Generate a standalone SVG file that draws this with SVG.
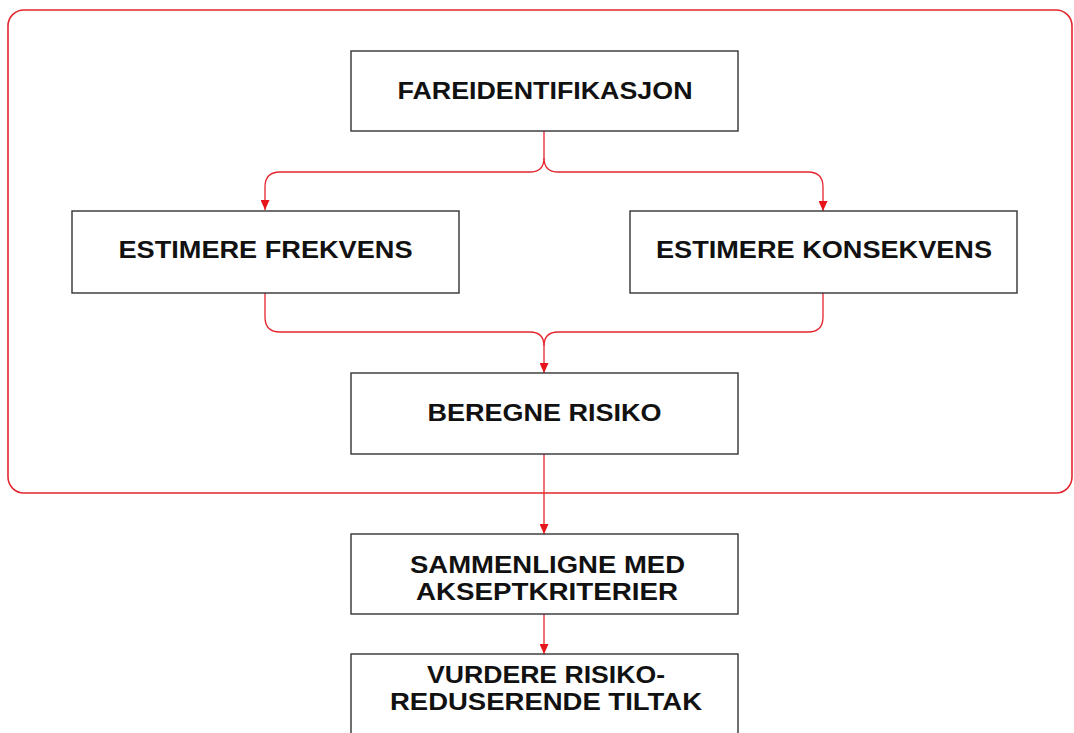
<svg xmlns="http://www.w3.org/2000/svg" width="1074" height="733" viewBox="0 0 1074 733">
  <style>
    .box { fill: #ffffff; stroke: #333333; stroke-width: 1.4; }
    .lbl { font-family: "Liberation Sans", Arial, sans-serif; font-weight: bold; font-size: 24.5px; fill: #111111; text-anchor: middle; }
    .con { fill: none; stroke: #e3262d; stroke-width: 1.3; }
    .frame { fill: none; stroke: #e3262d; stroke-width: 1.6; }
  </style>
  <defs>
    <marker id="arr" markerUnits="userSpaceOnUse" markerWidth="10" markerHeight="9" refX="10" refY="4.5" orient="auto" viewBox="0 0 10 9">
      <path d="M0,0 L10,4.5 L0,9 z" fill="#e8141c"/>
    </marker>
  </defs>
  <rect width="1074" height="733" fill="#ffffff"/>
  <rect id="frame" class="frame" x="8" y="10" width="1064" height="483" rx="16" ry="16"/>

  <g id="connectors">
    <path class="con" d="M544,131 V158 Q544,172 530,172 H280 Q265,172 265,187 V210" marker-end="url(#arr)"/>
    <path class="con" d="M544,158 Q544,172 558,172 H808 Q823,172 823,187 V211" marker-end="url(#arr)"/>
    <path class="con" d="M265,293 V317 Q265,332 280,332 H530 Q544,332 544,346"/>
    <path class="con" d="M823,293 V317 Q823,332 808,332 H558 Q544,332 544,346"/>
    <path class="con" d="M544,346 V373" marker-end="url(#arr)"/>
    <path class="con" d="M544,454 V534" marker-end="url(#arr)"/>
    <path class="con" d="M544,614 V654" marker-end="url(#arr)"/>
  </g>

  <g id="n-fareidentifikasjon">
    <rect class="box" x="351" y="51" width="387" height="80"/>
    <text class="lbl" x="545" y="99" textLength="295" lengthAdjust="spacingAndGlyphs">FAREIDENTIFIKASJON</text>
  </g>
  <g id="n-frekvens">
    <rect class="box" x="72" y="211" width="387" height="82"/>
    <text class="lbl" x="265.5" y="258" textLength="294" lengthAdjust="spacingAndGlyphs">ESTIMERE FREKVENS</text>
  </g>
  <g id="n-konsekvens">
    <rect class="box" x="630" y="211" width="387" height="82"/>
    <text class="lbl" x="824" y="258" textLength="336" lengthAdjust="spacingAndGlyphs">ESTIMERE KONSEKVENS</text>
  </g>
  <g id="n-beregne">
    <rect class="box" x="351" y="373" width="387" height="81"/>
    <text class="lbl" x="544.5" y="421" textLength="234" lengthAdjust="spacingAndGlyphs">BEREGNE RISIKO</text>
  </g>
  <g id="n-sammenligne">
    <rect class="box" x="351" y="534" width="387" height="80"/>
    <text class="lbl" x="547.5" y="573" textLength="275" lengthAdjust="spacingAndGlyphs">SAMMENLIGNE MED</text>
    <text class="lbl" x="547" y="600" textLength="262" lengthAdjust="spacingAndGlyphs">AKSEPTKRITERIER</text>
  </g>
  <g id="n-vurdere">
    <rect class="box" x="351" y="654" width="387" height="100"/>
    <text class="lbl" x="546" y="683" textLength="238" lengthAdjust="spacingAndGlyphs">VURDERE RISIKO-</text>
    <text class="lbl" x="546" y="710" textLength="312" lengthAdjust="spacingAndGlyphs">REDUSERENDE TILTAK</text>
  </g>
</svg>
